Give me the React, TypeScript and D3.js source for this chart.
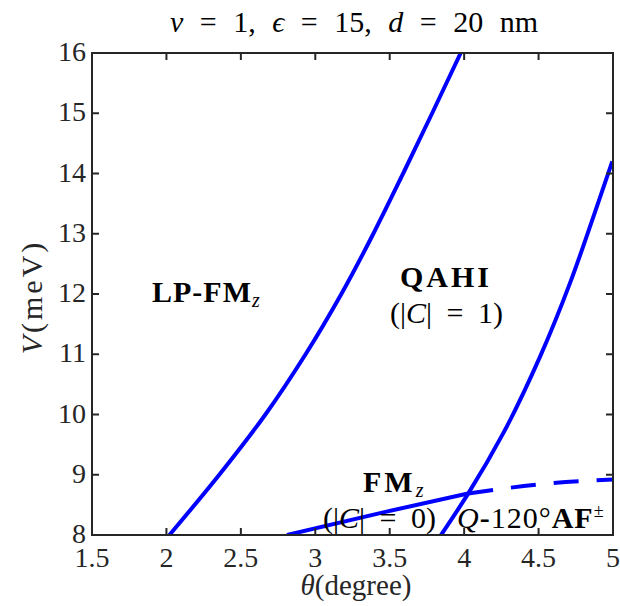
import React from 'react';
import * as d3 from 'd3';

// phase boundaries (theta in degree, V in meV)
const lpQahiV = [8, 9, 10, 11, 12, 13, 14, 15, 16];
const lpQahiTheta = [2.02, 2.355, 2.665, 2.935, 3.175, 3.39, 3.59, 3.785, 3.977];

const qahiAfV = [8, 8.69, 9.69, 10.96, 12.18, 13.28, 14.2];
const qahiAfTheta = [3.845, 4.028, 4.263, 4.51, 4.711, 4.868, 4.995];

const fmTheta = [2.81, 3.457, 4.028];
const fmV = [8, 8.376, 8.69];

const fmDashTheta = [4.028, 4.588, 5.0];
const fmDashV = [8.69, 8.86, 8.92];

const xTicks = [1.5, 2, 2.5, 3, 3.5, 4, 4.5, 5];
const yTicks = [8, 9, 10, 11, 12, 13, 14, 15, 16];

const W = 620;
const H = 606;
const margin = { top: 53, right: 7, bottom: 71, left: 92 };
const font = '"Liberation Serif", "Times New Roman", serif';
const axisColor = '#262626';
const lineColor = '#0000ff';

const App = () => {
    const x = d3.scaleLinear().domain([1.5, 5]).range([margin.left, W - margin.right]);
    const y = d3.scaleLinear().domain([8, 16]).range([H - margin.bottom, margin.top]);

    const line = d3.line<[number, number]>()
        .x(d => x(d[0]))
        .y(d => y(d[1]))
        .curve(d3.curveMonotoneY);
    const lineX = d3.line<[number, number]>()
        .x(d => x(d[0]))
        .y(d => y(d[1]))
        .curve(d3.curveMonotoneX);

    const zip = (a: number[], b: number[]) => a.map((v, i) => [v, b[i]] as [number, number]);

    const x0 = x(1.5), x1 = x(5), y0 = y(8), y1 = y(16);
    const tick = 7;

    return (
        <svg width={W} height={H} style={{ display: 'block', position: 'absolute', left: 0, top: 0, background: '#fff' }}
            fontFamily={font}>
            <defs>
                <clipPath id="plot">
                    <rect x={x0} y={y1} width={x1 - x0} height={y0 - y1} />
                </clipPath>
            </defs>

            {/* title */}
            <text x={354} y={32} fontSize={30} fill="#000" textAnchor="middle" wordSpacing={9}>
                <tspan fontStyle="italic">ν</tspan> = 1, <tspan fontStyle="italic">ϵ</tspan> = 15, <tspan fontStyle="italic">d</tspan> = 20 nm
            </text>

            {/* curves */}
            <g clipPath="url(#plot)" fill="none" stroke={lineColor} strokeWidth={4}>
                <path d={line(zip(lpQahiTheta, lpQahiV)) || ''} />
                <path d={line(zip(qahiAfTheta, qahiAfV)) || ''} />
                <path d={lineX(zip(fmTheta, fmV)) || ''} />
                <path d={lineX(zip(fmDashTheta, fmDashV)) || ''} strokeDasharray="25 18" />
            </g>

            {/* frame + ticks */}
            <g stroke={axisColor} strokeWidth={2} fill="none">
                <rect x={x0} y={y1} width={x1 - x0} height={y0 - y1} />
                {xTicks.map(t => (
                    <g key={'x' + t}>
                        <line x1={x(t)} x2={x(t)} y1={y0} y2={y0 - tick} />
                        <line x1={x(t)} x2={x(t)} y1={y1} y2={y1 + tick} />
                    </g>
                ))}
                {yTicks.map(t => (
                    <g key={'y' + t}>
                        <line x1={x0} x2={x0 + tick} y1={y(t)} y2={y(t)} />
                        <line x1={x1} x2={x1 - tick} y1={y(t)} y2={y(t)} />
                    </g>
                ))}
            </g>

            {/* tick labels */}
            <g fontSize={28} fill={axisColor}>
                {xTicks.map(t => (
                    <text key={'xl' + t} x={x(t)} y={y0 + 32} textAnchor="middle">{t}</text>
                ))}
                {yTicks.map(t => (
                    <text key={'yl' + t} x={x0 - 6} y={y(t) + 8} textAnchor="end">{t}</text>
                ))}
            </g>

            {/* axis labels */}
            <text x={356} y={595} fontSize={29} fill={axisColor} textAnchor="middle">
                <tspan fontStyle="italic">θ</tspan>(degree)
            </text>
            <text transform="translate(42,297) rotate(-90)" fontSize={30} fill={axisColor} textAnchor="middle" letterSpacing={3}>
                <tspan fontStyle="italic">V</tspan>(meV)
            </text>

            {/* phase labels */}
            <g fill="#000" fontSize={30}>
                <text x={152} y={302}>
                    <tspan fontWeight="bold" letterSpacing={1}>LP-FM</tspan><tspan fontStyle="italic" fontSize={20} dy={5}>z</tspan>
                </text>
                <text x={400} y={287} fontWeight="bold" letterSpacing={3}>QAHI</text>
                <text x={390} y={323} wordSpacing={7}>(|<tspan fontStyle="italic">C</tspan>| = 1)</text>
                <text x={363} y={492}>
                    <tspan fontWeight="bold" letterSpacing={3}>FM</tspan><tspan fontStyle="italic" fontSize={20} dy={5}>z</tspan>
                </text>
                <text x={323} y={528} wordSpacing={7}>(|<tspan fontStyle="italic">C</tspan>| = 0)</text>
                <text x={457} y={528} letterSpacing={1}>
                    <tspan fontStyle="italic">Q</tspan><tspan fontWeight="bold">-</tspan>120°<tspan fontWeight="bold">AF</tspan><tspan fontSize={18} dy={-11}>±</tspan>
                </text>
            </g>
        </svg>
    );
};

export default App;
